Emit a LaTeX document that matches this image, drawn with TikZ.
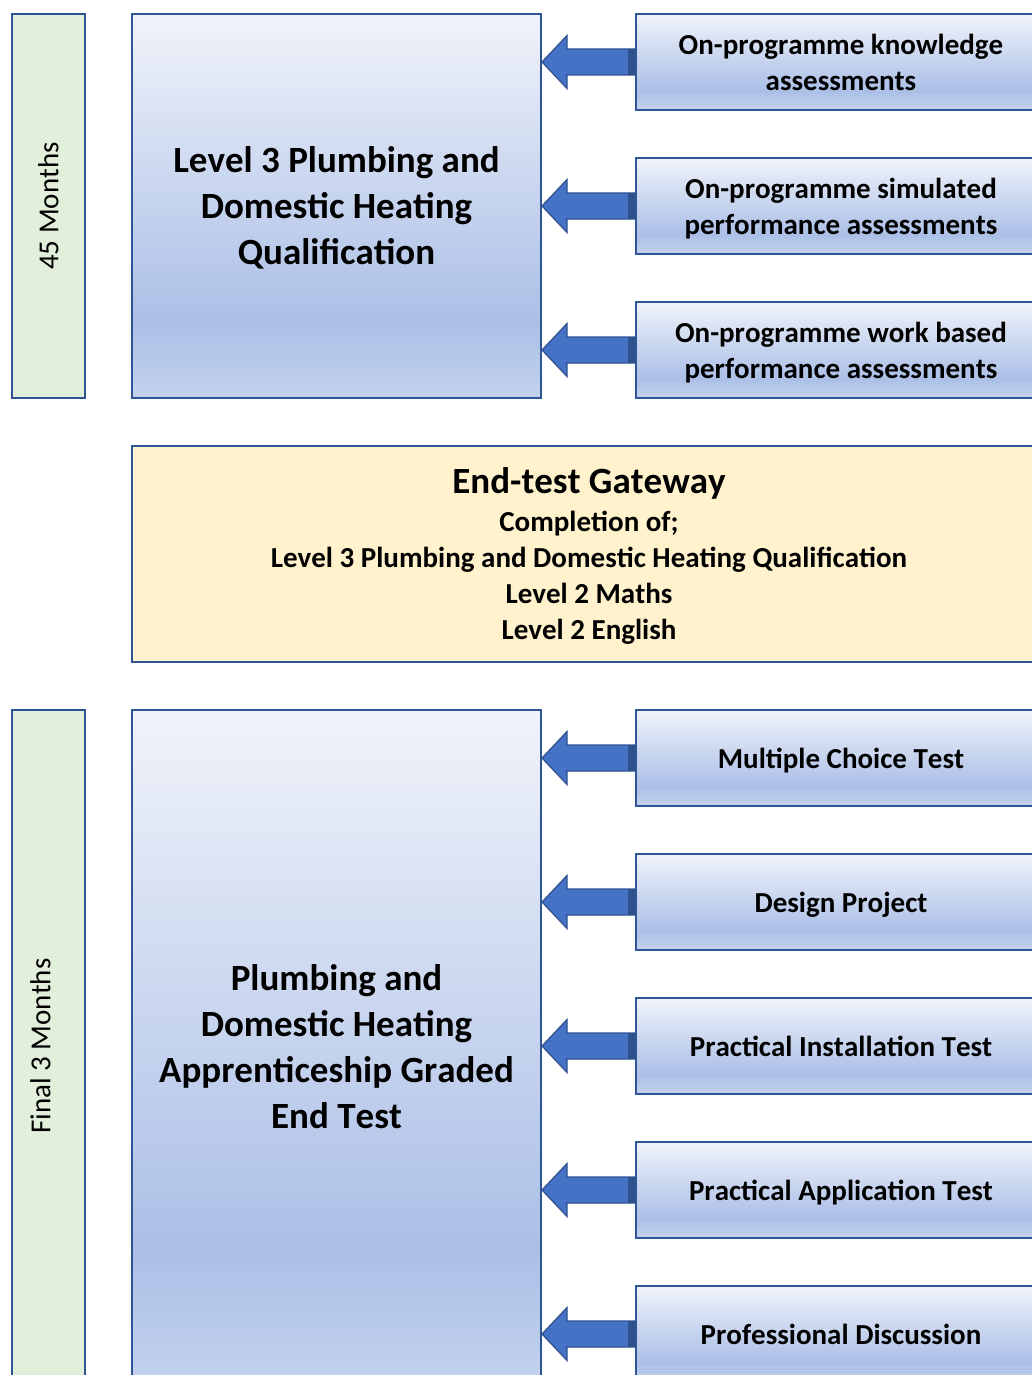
\documentclass[tikz,border=0pt]{standalone}
\usepackage{fontspec}
\setmainfont{Carlito}[Kerning=Off]
\usetikzlibrary{calc}
\definecolor{bordblue}{HTML}{2F5597}
\definecolor{arrfill}{HTML}{4472C4}
\definecolor{arrdark}{HTML}{2F528F}
\definecolor{gatefill}{HTML}{FFF2CC}
\definecolor{greenfill}{HTML}{E2EFDA}
\definecolor{gtop}{HTML}{F0F3FA}
\definecolor{gdark}{HTML}{ABBFE6}
\definecolor{gbot}{HTML}{C3D2EE}
\pgfdeclareverticalshading{officeblue}{100bp}{color(0bp)=(gbot); color(25bp)=(gbot); color(35bp)=(gdark); color(75bp)=(gtop); color(100bp)=(gtop)}
\tikzset{
  box/.style={draw=bordblue, line width=2pt, anchor=north west, inner sep=0pt, align=center, text depth=0pt},
  bluebox/.style={box, shading=officeblue},
  greenbar/.style={box, fill=greenfill, minimum width=73pt},
  mainbox/.style={bluebox, minimum width=409pt, font=\bfseries\fontsize{37}{46}\selectfont},
  sidebox/.style={bluebox, minimum width=410pt, minimum height=96pt, font=\bfseries\fontsize{29}{36}\selectfont},
  barlabel/.style={rotate=90, font=\fontsize{29}{36}\selectfont},
  bigarrow/.style={fill=arrfill, draw=arrdark, line width=1.2pt, line join=miter},
}
\begin{document}
\begin{tikzpicture}[x=1pt, y=-1pt]
\useasboundingbox (0,0) rectangle (1031,1375);
% left bars
\node[greenbar, minimum height=384pt] (g1) at (11,13) {};
\node[barlabel] (g1t) at (g1.center) {45 Months};
\node[greenbar, minimum height=680pt] (g2) at (11,709) {};
\node[barlabel] (g2t) at ($(g2.center)+(-8,-4)$) {Final 3 Months};
% main boxes
\node[mainbox, minimum height=384pt] (m1) at (131,13) {Level 3 Plumbing and\\Domestic Heating\\Qualification};
\node[mainbox, minimum height=674pt] (m2) at (131,709) {Plumbing and\\Domestic Heating\\Apprenticeship Graded\\End Test};
% gateway
\node[box, fill=gatefill, minimum width=914pt, minimum height=216pt, font=\bfseries\fontsize{29}{36}\selectfont] (gw) at (131,445)
  {{\fontsize{37}{46}\selectfont End-test Gateway}\\[2pt]Completion of;\\Level 3 Plumbing and Domestic Heating Qualification\\Level 2 Maths\\Level 2 English};
% side boxes
\node[sidebox] (r1) at (635,13) {On-programme knowledge\\assessments};
\node[sidebox] (r2) at (635,157) {On-programme simulated\\performance assessments};
\node[sidebox] (r3) at (635,301) {On-programme work based\\performance assessments};
\node[sidebox] (r4) at (635,709) {Multiple Choice Test};
\node[sidebox] (r5) at (635,853) {Design Project};
\node[sidebox] (r6) at (635,997) {Practical Installation Test};
\node[sidebox] (r7) at (635,1141) {Practical Application Test};
\node[sidebox] (r8) at (635,1285) {Professional Discussion};
% arrows
\foreach \r/\m in {r1/m1, r2/m1, r3/m1, r4/m2, r5/m2, r6/m2, r7/m2, r8/m2} {
  \coordinate (tail) at (\r.west);
  \coordinate (tip) at (\m.east |- \r.west);
  \draw[bigarrow] (tip) -- ($(tip)+(25,-26.5)$) -- ($(tip)+(25,-13)$) -- ($(tail)+(0,-13)$)
    -- ($(tail)+(0,13)$) -- ($(tip)+(25,13)$) -- ($(tip)+(25,26.5)$) -- cycle;
  \fill[arrdark] ($(tail)+(-7,-13)$) rectangle ($(tail)+(0,13)$);
}
\end{tikzpicture}
\end{document}
